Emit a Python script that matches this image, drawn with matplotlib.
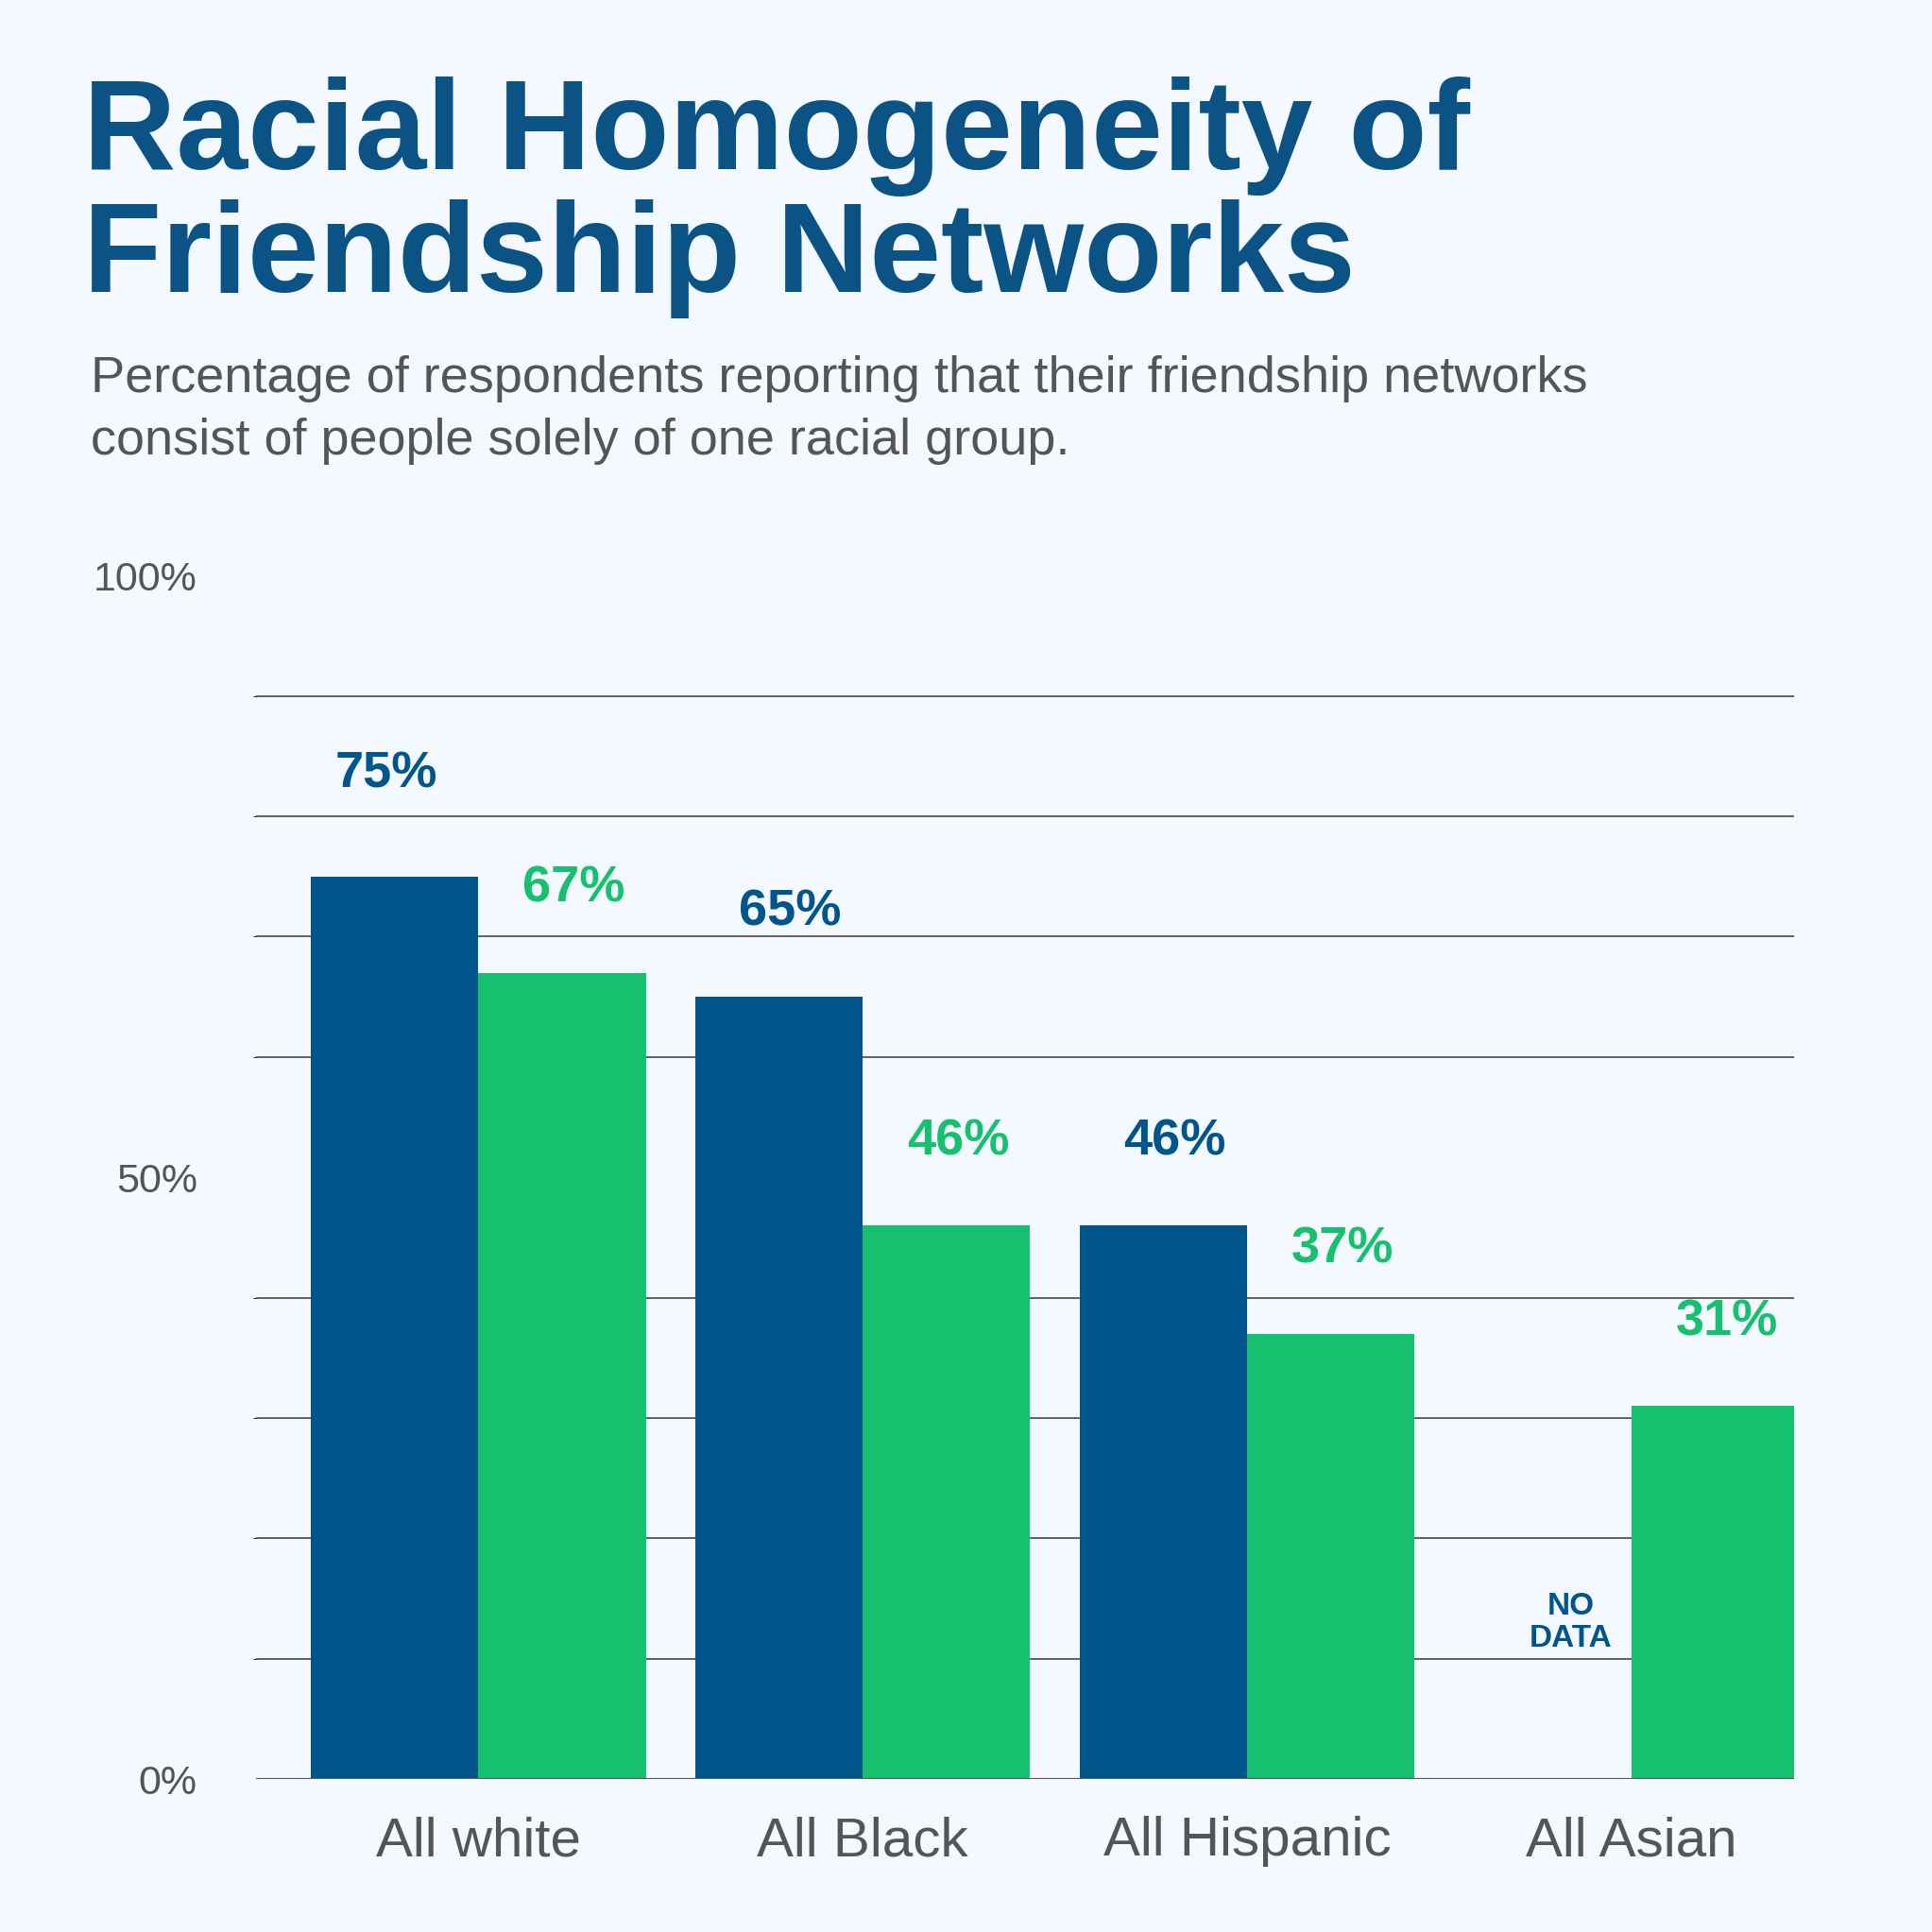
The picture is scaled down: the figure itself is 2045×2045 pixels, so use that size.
import matplotlib
matplotlib.use("Agg")
import matplotlib.pyplot as plt
import numpy as np

categories = ["All white", "All Black", "All Hispanic", "All Asian"]
blue_vals = [75, 65, 46, np.nan]
green_vals = [67, 46, 37, 31]
blue_labels = ["75%", "65%", "46%", None]
green_labels = ["67%", "46%", "37%", "31%"]
yticks = [0, 50, 100]
yticklabels = ["0%", "50%", "100%"]

BLUE = "#00558B"
GREEN = "#16C06E"
BG = "#F3F9FE"
FONT = "Liberation Sans"

fig = plt.figure(figsize=(20.45, 20.45), dpi=100, facecolor=BG)
ax = fig.add_axes([0.1327, 0.0791, 0.7959, 0.623], facecolor=BG)

x = np.arange(len(categories))
w = 0.436
ax.bar(x - w/2, blue_vals, width=w, color=BLUE, zorder=3)
ax.bar(x + w/2, green_vals, width=w, color=GREEN, zorder=3)

for xi, v, lab in zip(x, blue_vals, blue_labels):
    if lab:
        ax.text(xi - w/2 + (-0.02 if xi == 0 else 0.03), v + (8.5 if xi == 0 else 7), lab,
                ha="center", va="center", fontsize=39, fontweight="bold", color=BLUE, family=FONT)
for xi, v, lab in zip(x, green_vals, green_labels):
    ax.text(xi + w/2 + 0.03, v + 7, lab, ha="center", va="center",
            fontsize=39, fontweight="bold", color=GREEN, family=FONT)
ax.text(3 - w/2 + 0.06, 13, "NO\nDATA", ha="center", va="center", fontsize=24,
        fontweight="bold", color=BLUE, family=FONT, linespacing=1.1)

ax.set_xlim(-0.577, 3.423)
ax.set_ylim(0, 100)
ax.set_yticks(np.arange(0, 101, 10), minor=True)
ax.grid(axis="y", which="minor", color="#555555", linewidth=1.3, zorder=0)
ax.set_yticks(yticks)
ax.set_yticklabels(yticklabels, fontsize=31, color="#555555", family=FONT)
ax.set_xticks(x)
ax.set_xticklabels(categories, fontsize=42, color="#555555", family=FONT)
ax.tick_params(axis="both", length=0, pad=18)
ax.tick_params(axis="y", pad=45)
ax.tick_params(axis="x", pad=28)
for s in ax.spines.values():
    s.set_visible(False)
ax.axhline(0, color="#555555", linewidth=1.5, zorder=4)

fig.text(0.043, 0.9126, "Racial Homogeneity of", fontsize=98, fontweight="bold",
         color="#0B5384", family=FONT, va="baseline")
fig.text(0.043, 0.849, "Friendship Networks", fontsize=98, fontweight="bold",
         color="#0B5384", family=FONT, va="baseline")
fig.text(0.047, 0.797, "Percentage of respondents reporting that their friendship networks",
         fontsize=39, color="#555555", family=FONT, va="baseline")
fig.text(0.047, 0.765, "consist of people solely of one racial group.",
         fontsize=39, color="#555555", family=FONT, va="baseline")

fig.savefig("out.png", dpi=100, facecolor=BG)
